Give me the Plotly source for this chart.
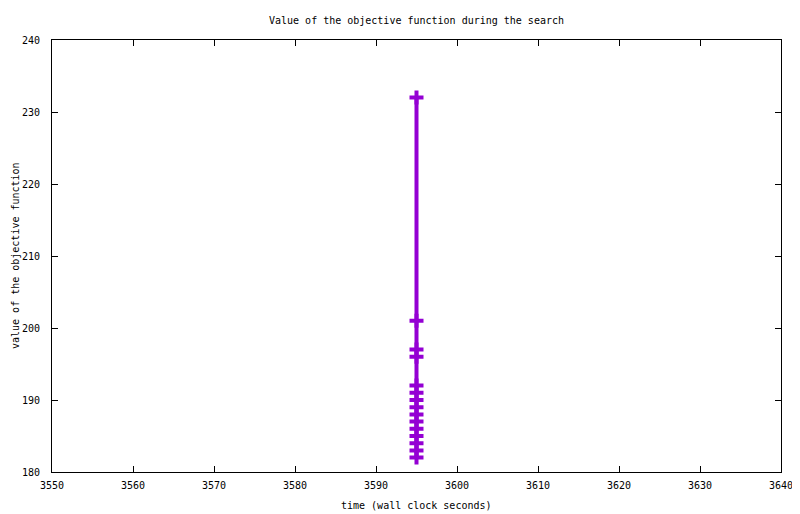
import plotly.graph_objects as go

objective = [232, 201, 197, 196, 192, 191, 190, 189, 188, 187, 186, 185, 184, 183, 182]
time_s = [3595, 3595, 3595, 3595, 3595, 3595, 3595, 3595, 3595, 3595, 3595, 3595, 3595, 3595, 3595]

x_ticks = [3550, 3560, 3570, 3580, 3590, 3600, 3610, 3620, 3630, 3640]
y_ticks = [180, 190, 200, 210, 220, 230, 240]

TITLE = "Value of the objective function during the search"
X_TITLE = "time (wall clock seconds)"
Y_TITLE = "value of the objective function"

FONT = "DejaVu Sans Mono"
COLOR = "#9400D3"
TXT = dict(family=FONT, size=10, color="black")

# the page adds an 8px body margin, so the figure is offset by 8px
W, H = 792, 506

fig = go.Figure()
fig.add_trace(go.Scatter(
    x=time_s, y=objective, mode="lines+markers",
    line=dict(color=COLOR, width=4),
    marker=dict(symbol="cross-thin", size=10, line=dict(color=COLOR, width=4), color=COLOR),
    showlegend=False,
))

axis_common = dict(
    showline=True, linecolor="black", linewidth=1, mirror="ticks",
    ticks="inside", ticklen=6, tickcolor="black", tickwidth=1,
    showgrid=False, zeroline=False, automargin=False,
    tickfont=TXT,
)

fig.update_layout(
    width=W, height=H,
    margin=dict(l=44, r=19, t=32, b=42, autoexpand=False),
    paper_bgcolor="white", plot_bgcolor="white",
    title=dict(text=TITLE, x=0.5, xanchor="center", xref="paper",
               y=1 - 12 / H, yanchor="middle", font=TXT),
    xaxis=dict(range=[3550, 3640], tickvals=x_ticks, ticklabelstandoff=4, **axis_common),
    yaxis=dict(range=[180, 240], tickvals=y_ticks, ticklabelstandoff=9, **axis_common),
    annotations=[
        dict(text=X_TITLE, xref="paper", yref="paper", x=0.5, y=0,
             xanchor="center", yanchor="middle", yshift=-33, showarrow=False, font=TXT),
        dict(text=Y_TITLE, xref="paper", yref="paper", x=0, y=0.5, textangle=-90,
             xanchor="center", yanchor="middle", xshift=-37, showarrow=False, font=TXT),
    ],
)

fig.write_html("out.html")
